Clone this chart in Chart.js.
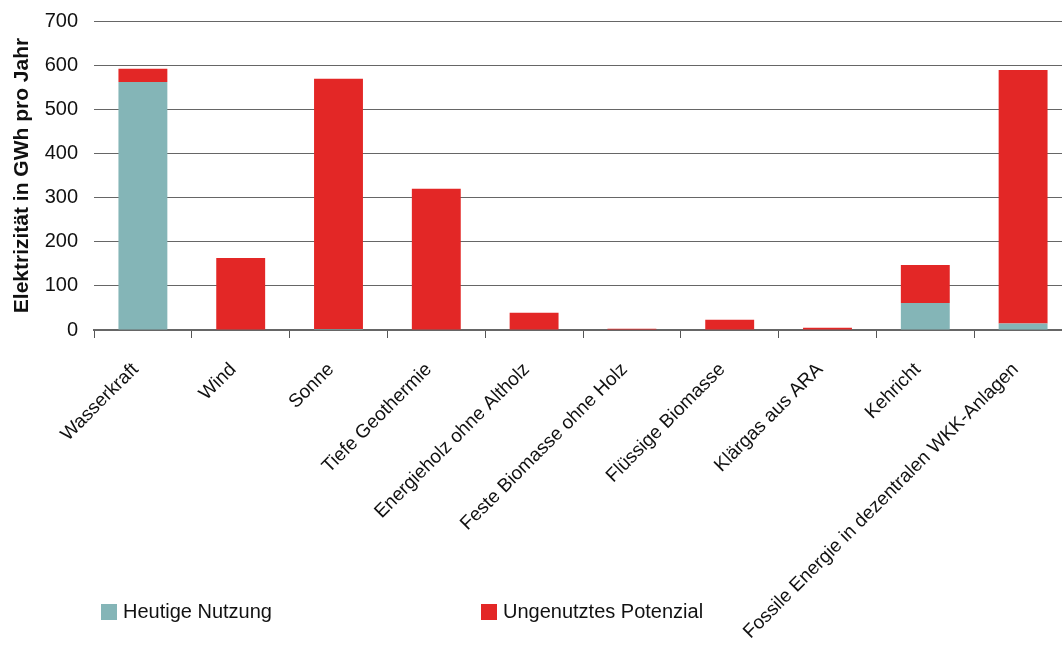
<!DOCTYPE html>
<html>
<head>
<meta charset="utf-8">
<script src="https://cdn.jsdelivr.net/npm/chart.js@4.4.0/dist/chart.umd.min.js"></script>
<style>
  html, body { margin: 0; padding: 0; background: #fff; overflow: hidden; }
  #wrap { position: relative; width: 1062px; height: 646px; overflow: hidden; }
  #myChart { position: absolute; left: 0; top: -7px; }
  .leg { position: absolute; font-family: "Liberation Sans", Arial, sans-serif; font-size: 20px; color: #111; line-height: 20px; }
  .leg span.box { display: inline-block; width: 16px; height: 16px; vertical-align: -2px; margin-right: 6px; }
</style>
</head>
<body>
<div id="wrap">
  <canvas id="myChart" width="1086" height="653"></canvas>
  <div class="leg" style="left:101px; top:601px;"><span class="box" style="background:#84b5b7"></span>Heutige Nutzung</div>
  <div class="leg" style="left:481px; top:601px;"><span class="box" style="background:#e32726"></span>Ungenutztes Potenzial</div>
</div>
<script>
var categories = [
  'Wasserkraft', 'Wind', 'Sonne', 'Tiefe Geothermie', 'Energieholz ohne Altholz',
  'Feste Biomasse ohne Holz', 'Flüssige Biomasse', 'Klärgas aus ARA', 'Kehricht',
  'Fossile Energie in dezentralen WKK-Anlagen'
];
var heutigeNutzung = [562, 0, 2, 0, 0, 1, 0, 1, 61, 15];
var ungenutztesPotenzial = [30, 163, 567, 320, 39, 2, 23, 4, 86, 574];
var yTicks = [0, 100, 200, 300, 400, 500, 600, 700];

var font = "'Liberation Sans', Arial, sans-serif";

var ctx = document.getElementById('myChart');
var myChart = new Chart(ctx, {
  type: 'bar',
  data: {
    labels: categories,
    datasets: [{
      label: 'Heutige Nutzung',
      data: heutigeNutzung,
      backgroundColor: '#84b5b7',
      barPercentage: 0.5,
      categoryPercentage: 1
    }, {
      label: 'Ungenutztes Potenzial',
      data: ungenutztesPotenzial,
      backgroundColor: '#e32726',
      barPercentage: 0.5,
      categoryPercentage: 1
    }]
  },
  options: {
    responsive: false,
    animation: false,
    events: [],
    layout: { padding: { top: 14, right: 14, bottom: 0, left: 0 } },
    plugins: {
      legend: { display: false },
      tooltip: { enabled: false }
    },
    scales: {
      x: {
        stacked: true,
        afterFit: function(scale) { scale.height = 316; },
        grid: { drawOnChartArea: false, drawTicks: true, tickLength: 8, color: '#555', offset: true },
        border: { color: '#666', width: 2 },
        ticks: {
          autoSkip: false, minRotation: 45, maxRotation: 45, padding: 13,
          color: '#111', font: { family: font, size: 19 },
          callback: function(value) { return categories[value] + '  '; }
        }
      },
      y: {
        stacked: true,
        min: 0, max: 700,
        afterFit: function(scale) { scale.width = 94; },
        afterBuildTicks: function(scale) { scale.ticks = yTicks.map(function(v) { return { value: v }; }); },
        grid: { color: '#666', lineWidth: 1, drawTicks: false },
        border: { display: false },
        ticks: { padding: 16, color: '#111', font: { family: font, size: 20 } },
        title: {
          display: true,
          text: 'Elektrizität in GWh pro Jahr',
          color: '#111',
          font: { family: font, size: 21, weight: 'bold' },
          padding: { top: 10, bottom: 0 }
        }
      }
    }
  }
});
</script>
</body>
</html>
